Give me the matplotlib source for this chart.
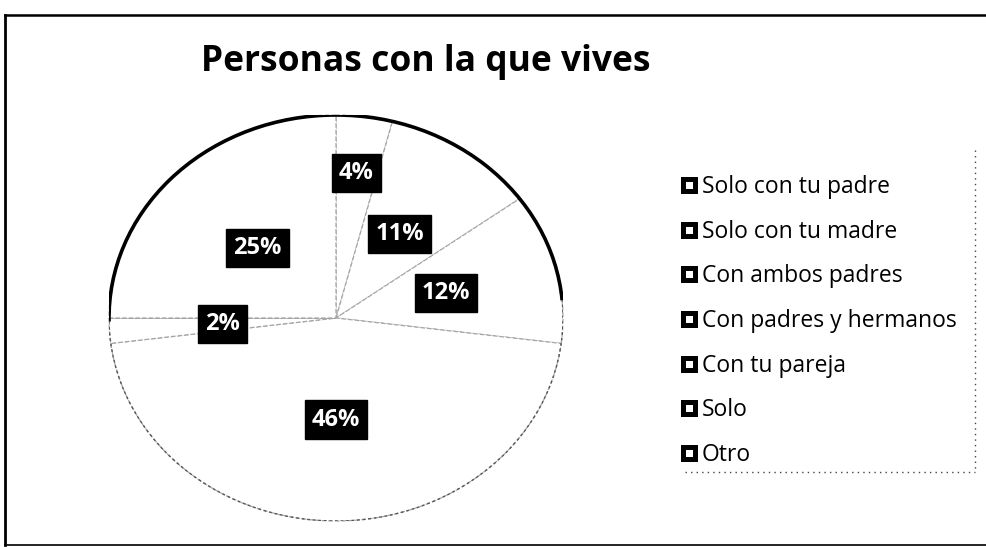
import matplotlib.pyplot as plt
import numpy as np
from matplotlib.patches import Arc
from matplotlib.lines import Line2D

categories = ['Solo con tu padre', 'Solo con tu madre', 'Con ambos padres',
              'Con padres y hermanos', 'Con tu pareja', 'Solo', 'Otro']
percent = [4, 11, 12, 46, 2, 0, 25]
title = 'Personas con la que vives'

plt.rcParams['font.family'] = ['Open Sans', 'DejaVu Sans']

W, H = 986, 547


def px(x0, y0, w, h):
    # rectangle in pixels (top-left origin) -> figure fraction
    return [x0 / W, 1 - (y0 + h) / H, w / W, h / H]


fig = plt.figure(figsize=(W / 100, H / 100), dpi=100)
fig.patch.set_facecolor('white')

# pie (slightly stretched like the scanned original)
ax = fig.add_axes(px(109, 115, 454, 406))
wedges, _ = ax.pie(percent, startangle=90, counterclock=False,
                   colors=['white'] * len(percent),
                   wedgeprops=dict(edgecolor='#a5a5a5', linewidth=0.9, linestyle='--'))
ax.set_xlim(-1, 1)
ax.set_ylim(-1, 1)
ax.set_aspect('auto')
ax.axis('off')

ax.add_patch(Arc((0, 0), 2, 2, theta1=5, theta2=181, lw=2.6, color='black'))
ax.add_patch(Arc((0, 0), 2, 2, theta1=181, theta2=365, lw=1.0, ls=(0, (2, 2)), color='#555555'))

label_dist = [0.72, 0.5, 0.5, 0.5, 0.5, 0.5, 0.49]
for w, v, d in zip(wedges, percent, label_dist):
    if v == 0:
        continue
    t = np.deg2rad((w.theta1 + w.theta2) / 2)
    ax.text(d * np.cos(t), d * np.sin(t), f'{v}%', ha='center', va='center',
            color='white', fontsize=17, fontweight='bold',
            bbox=dict(boxstyle='square,pad=0.3', fc='black', ec='black'))

# title
fig.text(201 / W, 1 - 62 / H, title, ha='left', va='center',
         fontsize=25.5, fontweight='bold', color='black')

# legend
handles = [Line2D([], [], ls='none', marker='s', markersize=9,
                  markerfacecolor='white', markeredgecolor='black', markeredgewidth=3.6)
           for _ in categories]
fig.legend(handles, categories, loc='upper left',
           bbox_to_anchor=(674 / W, 1 - 166 / H), frameon=False,
           fontsize=16.5, handlelength=0.5, handletextpad=0.3,
           labelspacing=0.9, borderaxespad=0)

# dotted legend border (right and bottom)
fig.add_artist(Line2D([975 / W, 975 / W], [1 - 150 / H, 1 - 472 / H],
                      color='#444444', lw=1, ls=(0, (1, 3))))
fig.add_artist(Line2D([685 / W, 975 / W], [1 - 472 / H, 1 - 472 / H],
                      color='#444444', lw=1, ls=(0, (1, 3))))

# outer frame (top, left, bottom)
fig.add_artist(Line2D([5 / W, 1], [1 - 15 / H, 1 - 15 / H], color='black', lw=1.8))
fig.add_artist(Line2D([5 / W, 5 / W], [1 - 15 / H, 1 - 545 / H], color='black', lw=2))
fig.add_artist(Line2D([5 / W, 1], [1 - 545 / H, 1 - 545 / H], color='black', lw=1.2))

fig.savefig('out.png', dpi=100, facecolor='white')
